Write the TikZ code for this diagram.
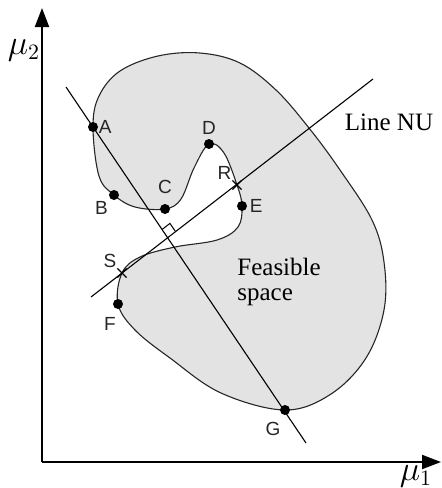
\documentclass[tikz,border=0pt]{standalone}
\usepackage{fontspec}
\setmainfont{Liberation Serif}
\newfontfamily\lettfont{Liberation Sans}
\usetikzlibrary{calc,shapes.misc,arrows.meta}
\tikzset{
  pt/.style={circle,fill=black,inner sep=0pt,minimum size=5pt},
  crs/.style={cross out,draw=black,inner sep=0pt,minimum size=4pt,line width=0.6pt},
  lett/.style={font=\lettfont\fontsize{9.5}{10}\selectfont,text=black!85,inner sep=1pt},
  axis/.style={line width=1pt,arrows={-{Triangle[length=9.5pt,width=7pt]}}},
}
\begin{document}
\begin{tikzpicture}[x=0.5pt,y=-0.5pt,every label/.style={lett}]
\useasboundingbox (0,0) rectangle (442,488);
\filldraw[fill=black!11,draw=black!85,line width=0.55pt] plot[smooth cycle,tension=0.6] coordinates {
 (93,127) (99,176) (114,195) (135,207) (165,209) (181,199) (194,168) (209,144)
 (224,153) (237,185) (242,206) (238,227) (217,240) (175,247) (140,257) (122,273)
 (118,304) (135,330) (170,358) (221,393) (285,410) (331,394) (366,358) (384,310)
 (384,262) (372,220) (340,170) (309,128) (276,90) (240,63) (200,53) (158,56)
 (120,71) (99,96)};
\coordinate (O) at (42,462);
\coordinate (ytip) at (42,8);
\coordinate (xtip) at (441,462);
\draw[axis] (O) -- (ytip);
\draw[axis] (O) -- (xtip);
\node (mu2) at (24,50) {\fontsize{16}{18}\selectfont$\mu_2$};
\node (mu1) at (416,476) {\fontsize{16}{18}\selectfont$\mu_1$};
\coordinate (lAtop) at (66,87);
\coordinate (lAbot) at (306,443);
\coordinate (lNbot) at (91,297);
\coordinate (lNtop) at (373,79);
\draw[line width=0.55pt] (lAtop) -- (lAbot);
\draw[line width=0.55pt] (lNbot) -- (lNtop);
\coordinate (P) at (intersection of lAtop--lAbot and lNbot--lNtop);
\coordinate (q1) at ($(P)!5pt!(lAtop)$);
\coordinate (q2) at ($(P)!5pt!(lNtop)$);
\draw[line width=0.5pt] (q1) -- ($(q1)+(q2)-(P)$) -- (q2);
\node[pt,label={[label distance=-1pt]right:A}] (A) at (93,127) {};
\node[pt,label={[label distance=0pt]below left:B}] (B) at (114,195) {};
\node[pt,label={[label distance=4pt]above:C}] (C) at (165,209) {};
\node[pt,label={[label distance=1pt]above:D}] (D) at (209,144) {};
\node[crs,label={[label distance=-1pt]above left:R}] (R) at (237,185) {};
\node[pt,label={[label distance=0pt]right:E}] (E) at (242,206) {};
\node[crs,label={[label distance=-1pt]above left:S}] (S) at (122,273) {};
\node[pt,label={[label distance=3pt,xshift=-4pt]below:F}] (F) at (118,304) {};
\node[pt,label={[label distance=2pt,xshift=-6pt]below:G}] (G) at (285,410) {};
\node[font=\fontsize{12.5}{12.5}\selectfont] (nu) at (389,122) {Line NU};
\node[font=\fontsize{12.5}{12.5}\selectfont,align=left,anchor=west,inner sep=0pt] (fs) at (237,282) {Feasible\\space};
\end{tikzpicture}
\end{document}
